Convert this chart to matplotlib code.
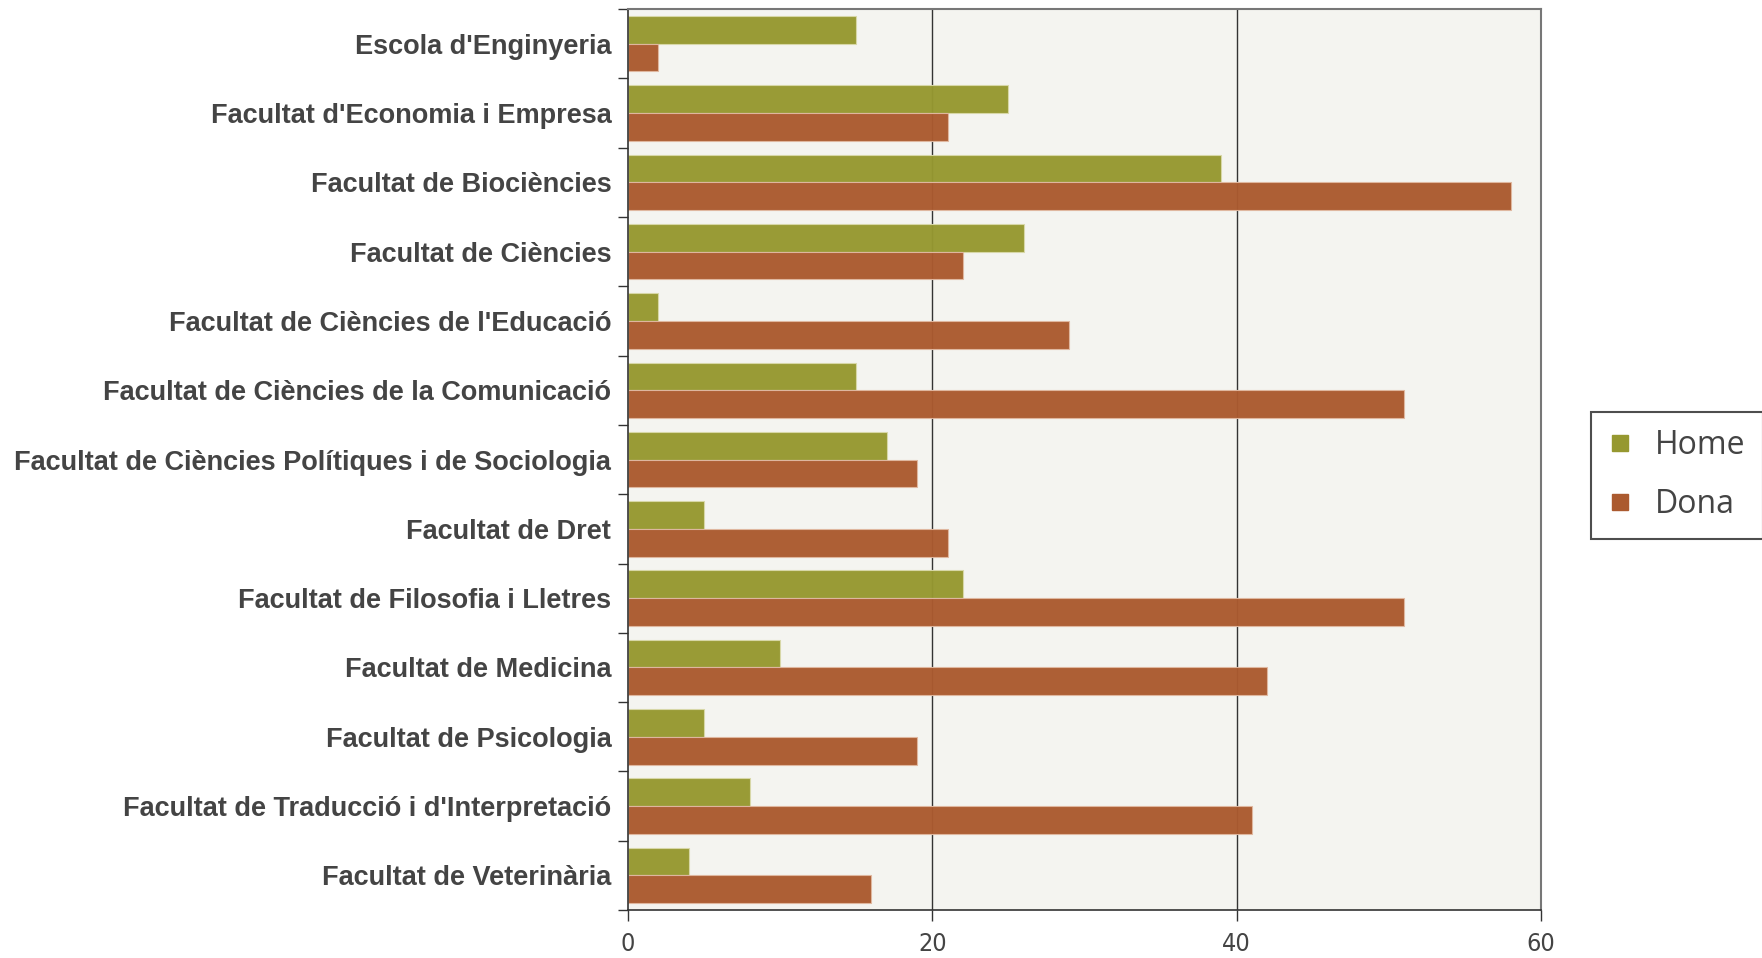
import numpy as np
from matplotlib import pyplot as plt
from matplotlib.lines import Line2D

centres = ["Escola d'Enginyeria", "Facultat d'Economia i Empresa", "Facultat de Biociències",
           "Facultat de Ciències", "Facultat de Ciències de l'Educació",
           "Facultat de Ciències de la Comunicació", "Facultat de Ciències Polítiques i de Sociologia",
           "Facultat de Dret", "Facultat de Filosofia i Lletres", "Facultat de Medicina",
           "Facultat de Psicologia", "Facultat de Traducció i d'Interpretació",
           "Facultat de Veterinària"]
home = [15, 25, 39, 26, 2, 15, 17, 5, 22, 10, 5, 8, 4]
dona = [2, 21, 58, 22, 29, 51, 19, 21, 51, 42, 19, 41, 16]
series = ["Home", "Dona"]
x_ticks = [0, 20, 40, 60]

col_home = "#969830"
col_dona = "#ab5a2f"

fig = plt.figure(figsize=(17.62, 9.58), dpi=100)
ax = fig.add_axes([0.3564, 0.05, 0.5182, 0.9406])
ax.set_facecolor("#f4f4f0")

y = np.arange(len(centres))
h = 0.4
ax.barh(y - h / 2, home, height=h, color=col_home, edgecolor="#d8d8a8", linewidth=0.8, zorder=2, alpha=0.97)
ax.barh(y + h / 2, dona, height=h, color=col_dona, edgecolor="#e0b8a0", linewidth=0.8, zorder=2, alpha=0.97)

ax.set_xlim(0, 60)
ax.set_ylim(len(centres) - 0.5, -0.5)
for v in x_ticks[1:-1]:
    ax.axvline(v, color="#333333", linewidth=1.0, zorder=1)

ax.set_xticks(x_ticks)
ax.set_xticklabels([str(v) for v in x_ticks], fontsize=18, color="#444444", family="DejaVu Sans",
                   fontstretch="condensed")
ax.tick_params(axis="x", length=8, width=1, color="#333333", pad=8)

ax.set_yticks(y)
ax.set_yticklabels(centres, fontsize=19.5, fontweight="bold", color="#444444", family="Liberation Sans")
ax.tick_params(axis="y", which="major", length=0, pad=12)
ax.set_yticks(np.arange(len(centres) + 1) - 0.5, minor=True)
ax.tick_params(axis="y", which="minor", length=7, width=1, color="#333333")

for s in ["top", "right"]:
    ax.spines[s].set_color("#777777")
    ax.spines[s].set_linewidth(1.5)
for s in ["left", "bottom"]:
    ax.spines[s].set_color("#333333")
    ax.spines[s].set_linewidth(1.2)

handles = [Line2D([], [], marker="s", linestyle="none", markersize=12, color=c)
           for c in [col_home, col_dona]]
leg = fig.legend(handles, series, loc="center left", bbox_to_anchor=(0.903, 0.504),
                 frameon=True, fancybox=False, edgecolor="#222222", borderaxespad=0,
                 handlelength=0.7, labelspacing=0.8, handletextpad=0.75, borderpad=0.55,
                 prop={"family": "Open Sans", "size": 23})
leg.get_frame().set_linewidth(1.5)
for t in leg.get_texts():
    t.set_color("#444444")

fig.savefig("out.png", dpi=100)
